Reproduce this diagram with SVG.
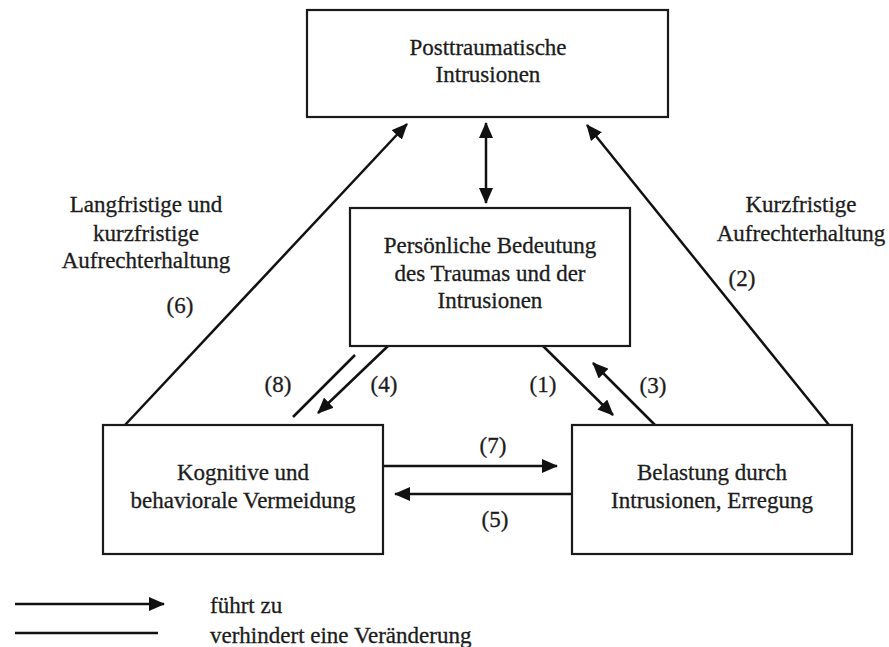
<svg xmlns="http://www.w3.org/2000/svg" width="889" height="647" viewBox="0 0 889 647">
<style>
.box{fill:#fff;stroke:#1a1a1a;stroke-width:2.2}
.t{font-family:"Liberation Serif","Times New Roman",serif;font-size:23px;fill:#1c1c1c;stroke:#1c1c1c;stroke-width:0.3;text-anchor:middle}
.tl{font-family:"Liberation Serif","Times New Roman",serif;font-size:23px;fill:#1c1c1c;stroke:#1c1c1c;stroke-width:0.3}
.c{stroke:#111;stroke-width:2.5;fill:none}
.a{marker-end:url(#ah)}
</style>
<defs>
<marker id="ah" markerUnits="userSpaceOnUse" markerWidth="16" markerHeight="14" refX="15" refY="7" orient="auto-start-reverse" viewBox="0 0 16 14">
<path d="M0,0 L16,7 L0,14 z" fill="#111"/>
</marker>
</defs>
<rect width="889" height="647" fill="#fff"/>

<g id="connectors">
<line class="c" x1="486" y1="123" x2="486" y2="203" marker-start="url(#ah)" marker-end="url(#ah)"/>
<line class="c a" x1="125" y1="425" x2="407" y2="124"/>
<line class="c a" x1="829" y1="425" x2="587" y2="125"/>
<line class="c a" x1="388" y1="346" x2="318" y2="413"/>
<line class="c" x1="355" y1="355" x2="293" y2="417"/>
<line class="c a" x1="543" y1="346" x2="613" y2="415"/>
<line class="c a" x1="655" y1="425" x2="593" y2="363"/>
<line class="c a" x1="383" y1="466" x2="557" y2="466"/>
<line class="c a" x1="572" y1="494" x2="395" y2="494"/>
<line class="c a" x1="15" y1="604" x2="164" y2="604"/>
<line class="c" x1="15" y1="633" x2="158" y2="633"/>
</g>

<g id="node-posttraumatische">
<rect class="box" x="307" y="10" width="361" height="107"/>
<text class="t" x="488" y="55">Posttraumatische</text>
<text class="t" x="488" y="82">Intrusionen</text>
</g>

<g id="node-bedeutung">
<rect class="box" x="350" y="208" width="280" height="138"/>
<text class="t" x="490" y="253">Persönliche Bedeutung</text>
<text class="t" x="490" y="281">des Traumas und der</text>
<text class="t" x="490" y="308">Intrusionen</text>
</g>

<g id="node-vermeidung">
<rect class="box" x="103" y="425" width="280" height="129"/>
<text class="t" x="243" y="480">Kognitive und</text>
<text class="t" x="243" y="508">behaviorale Vermeidung</text>
</g>

<g id="node-belastung">
<rect class="box" x="572" y="425" width="280" height="129"/>
<text class="t" x="712" y="480">Belastung durch</text>
<text class="t" x="712" y="508">Intrusionen, Erregung</text>
</g>

<g id="labels">
<text class="t" x="146" y="212">Langfristige und</text>
<text class="t" x="146" y="241">kurzfristige</text>
<text class="t" x="146" y="268">Aufrechterhaltung</text>
<text class="t" x="180" y="313">(6)</text>
<text class="t" x="801" y="212">Kurzfristige</text>
<text class="t" x="801" y="241">Aufrechterhaltung</text>
<text class="t" x="742" y="286">(2)</text>
<text class="t" x="278" y="392">(8)</text>
<text class="t" x="384" y="392">(4)</text>
<text class="t" x="543" y="392">(1)</text>
<text class="t" x="653" y="393">(3)</text>
<text class="t" x="493" y="453">(7)</text>
<text class="t" x="495" y="527">(5)</text>
<text class="tl" x="210" y="613">führt zu</text>
<text class="tl" x="210" y="643">verhindert eine Veränderung</text>
</g>
</svg>
